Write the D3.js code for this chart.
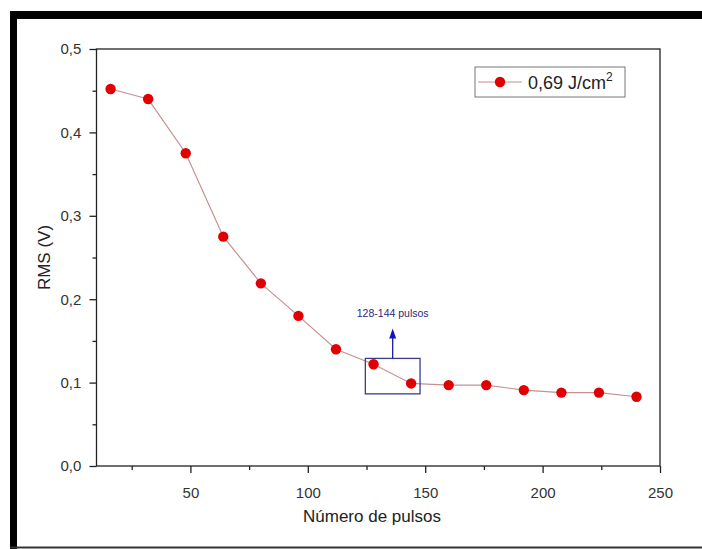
<!DOCTYPE html>
<html><head><meta charset="utf-8">
<script src="https://cdn.jsdelivr.net/npm/d3@7"></script>
<style>body{margin:0;background:#fff}svg{display:block;font-family:"Liberation Sans",Arial,sans-serif}</style>
</head><body><svg id="c" width="702" height="549"></svg>
<script>
const pulses = [16,32,48,64,80,96,112,128,144,160,176,192,208,224,240];
const rms = [0.452,0.440,0.375,0.275,0.219,0.180,0.140,0.122,0.099,0.097,0.097,0.091,0.088,0.088,0.083];
const xTicks = [50,100,150,200,250];
const yTicks = [0,0.1,0.2,0.3,0.4,0.5];
const seriesLabel = "0,69 J/cm";
const annotText = "128-144 pulsos";
const annotBox = [124.5,147.8,0.0865,0.129];

const svg = d3.select("#c");
const x = d3.scaleLinear().domain([10,250]).range([96.5,660]);
const y = d3.scaleLinear().domain([0,0.5]).range([466,49]);
const fmt = d => d3.format(".1f")(d).replace(".", ",");

// frame
svg.append("rect").attr("x",10).attr("y",11).attr("width",692).attr("height",8).attr("fill","#000");
svg.append("rect").attr("x",10).attr("y",11).attr("width",7).attr("height",538).attr("fill","#000");
svg.append("rect").attr("x",10).attr("y",546.5).attr("width",692).attr("height",2).attr("fill","#333");

// plot box
svg.append("rect").attr("x",x(10)).attr("y",y(0.5)).attr("width",x(250)-x(10)).attr("height",y(0)-y(0.5))
  .attr("fill","none").attr("stroke","#222").attr("stroke-width",1.3);

// x axis
const gx = svg.append("g").attr("transform",`translate(0,${y(0)})`);
gx.call(d3.axisBottom(x).tickValues(xTicks).tickSize(7).tickFormat(d3.format("d")));
const gxm = svg.append("g").attr("transform",`translate(0,${y(0)})`);
gxm.call(d3.axisBottom(x).tickValues([25,75,125,175,225]).tickSize(4).tickFormat(""));
// y axis
const gy = svg.append("g").attr("transform",`translate(${x(10)},0)`);
gy.call(d3.axisLeft(y).tickValues(yTicks).tickSize(7).tickFormat(fmt));
const gym = svg.append("g").attr("transform",`translate(${x(10)},0)`);
gym.call(d3.axisLeft(y).tickValues([0.05,0.15,0.25,0.35,0.45]).tickSize(4).tickFormat(""));
svg.selectAll(".domain").remove();
svg.selectAll(".tick line").attr("stroke","#222").attr("stroke-width",1.3);
svg.selectAll(".tick text").attr("fill","#333").attr("font-size",15).attr("font-family","Liberation Sans, Arial, sans-serif");
gx.selectAll(".tick text").attr("dy","1.45em");
gy.selectAll(".tick text").attr("dx","-0.35em");

// titles
svg.append("text").attr("x",372).attr("y",522).attr("text-anchor","middle").attr("font-size",17).attr("fill","#222").text("Número de pulsos");
svg.append("text").attr("transform",`translate(50,${(y(0)+y(0.5))/2}) rotate(-90)`).attr("text-anchor","middle").attr("font-size",17).attr("fill","#222").text("RMS (V)");

// line + points
const line = d3.line().x((d,i)=>x(pulses[i])).y(d=>y(d));
svg.append("path").datum(rms).attr("d",line).attr("fill","none").attr("stroke","#c89090").attr("stroke-width",1.2);
svg.selectAll("circle.pt").data(rms).enter().append("circle").attr("class","pt")
  .attr("cx",(d,i)=>x(pulses[i])).attr("cy",d=>y(d)).attr("r",5.2).attr("fill","#e00000");

// annotation
svg.append("rect").attr("x",x(annotBox[0])).attr("y",y(annotBox[3])).attr("width",x(annotBox[1])-x(annotBox[0]))
  .attr("height",y(annotBox[2])-y(annotBox[3])).attr("fill","none").attr("stroke","#3c3c8c").attr("stroke-width",1.3);
const ax = (x(annotBox[0])+x(annotBox[1]))/2;
svg.append("line").attr("x1",ax).attr("x2",ax).attr("y1",y(annotBox[3])).attr("y2",y(annotBox[3])-22).attr("stroke","#1a1aa0").attr("stroke-width",1.3);
svg.append("path").attr("d",`M${ax-3.5},${y(annotBox[3])-20} L${ax},${y(annotBox[3])-30} L${ax+3.5},${y(annotBox[3])-20} Z`).attr("fill","#1414c0");
svg.append("text").attr("x",ax).attr("y",y(annotBox[3])-41).attr("text-anchor","middle").attr("font-size",10.5).attr("fill","#2a2a80").text(annotText);

// legend
const lg = svg.append("g").attr("transform","translate(475,67)");
lg.append("rect").attr("width",150).attr("height",30).attr("fill","#fff").attr("stroke","#777").attr("stroke-width",1);
lg.append("line").attr("x1",3).attr("x2",47).attr("y1",15).attr("y2",15).attr("stroke","#c89090").attr("stroke-width",1.2);
lg.append("circle").attr("cx",25).attr("cy",15).attr("r",5.2).attr("fill","#e00000");
const lt = lg.append("text").attr("x",53).attr("y",22).attr("font-size",18).attr("fill","#222");
lt.append("tspan").text(seriesLabel);
lt.append("tspan").attr("dy",-8).attr("font-size",12).text("2");
</script></body></html>
